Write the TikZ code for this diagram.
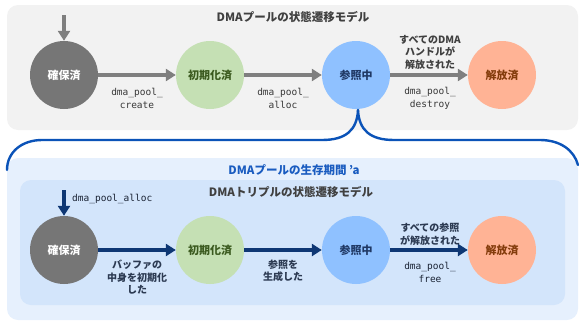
\documentclass[tikz,border=0pt]{standalone}
\usepackage{fontspec}
\setmainfont{Noto Sans CJK JP}
\setmonofont{DejaVu Sans Mono}
\usetikzlibrary{arrows.meta}

\definecolor{panelgray}{HTML}{F2F2F2}
\definecolor{paneloutblue}{HTML}{E6F0FD}
\definecolor{panelinblue}{HTML}{D3E5FB}
\definecolor{bracketblue}{HTML}{0B53B8}
\definecolor{titleblue}{HTML}{1A5CC0}
\definecolor{arrowgray}{HTML}{7F7F7F}
\definecolor{arrownavy}{HTML}{0E3774}
\definecolor{textgray}{HTML}{404040}
\definecolor{codegray}{HTML}{383838}
\definecolor{textnavy}{HTML}{2C3A52}
\definecolor{codenavy}{HTML}{1B2435}
\definecolor{stgray}{HTML}{767676}
\definecolor{stgreen}{HTML}{C5E0B4}
\definecolor{stgreentext}{HTML}{3B5A1F}
\definecolor{stblue}{HTML}{8FC1FF}
\definecolor{stbluetext}{HTML}{1F3864}
\definecolor{stsalmon}{HTML}{FFB395}
\definecolor{stsalmontext}{HTML}{843C0C}

\tikzset{
  state/.style={circle, minimum size=68pt, inner sep=0pt, font=\fontsize{11}{13}\selectfont\bfseries},
  sAlloc/.style={state, fill=stgray, text=white},
  sInit/.style={state, fill=stgreen, text=stgreentext},
  sRef/.style={state, fill=stblue, text=stbluetext},
  sFree/.style={state, fill=stsalmon, text=stsalmontext},
  grayflow/.style={draw=arrowgray, line width=4pt, -{Triangle[length=10pt,width=12pt]}},
  navyflow/.style={draw=arrownavy, line width=4pt, -{Triangle[length=10pt,width=12pt]}},
  codelbl/.style={align=center, font=\fontsize{9.5}{13}\selectfont\ttfamily, text=codegray, inner sep=0pt},
  jplbl/.style={align=center, font=\fontsize{10}{12.5}\selectfont\bfseries, inner sep=0pt},
  paneltitle/.style={font=\fontsize{11.5}{13}\selectfont\bfseries, inner sep=0pt},
}

\begin{document}
\begin{tikzpicture}[x=1pt, y=-1pt]
\useasboundingbox (0,0) rectangle (579,322);

% panels
\fill[panelgray, rounded corners=11pt] (7,5) rectangle (578,130);
\fill[paneloutblue, rounded corners=11pt] (7,158) rectangle (578,320);
\fill[panelinblue, rounded corners=11pt] (20,180) rectangle (565,305);

% panel titles
\node[paneltitle, text=textgray] (ttlpool) at (293,17) {DMAプールの状態遷移モデル};
\node[paneltitle, text=titleblue] (ttllife) at (294,170) {DMAプールの生存期間 ’a};
\node[paneltitle, text=textgray] (ttltriple) at (291,192) {DMAトリプルの状態遷移モデル};

% pool state machine
\node[sAlloc] (pA) at (64,75) {確保済};
\node[sInit]  (pI) at (210,75) {初期化済};
\node[sRef]   (pR) at (356,75) {参照中};
\node[sFree]  (pF) at (502,75) {解放済};

\coordinate (pStart) at (64,15);
\draw[grayflow] (pStart) -- (pA.north);
\draw[grayflow] (pA.east) -- (pI.west);
\draw[grayflow] (pI.east) -- (pR.west);
\draw[grayflow] (pR.east) -- (pF.west);

\node[codelbl] (lcreate) at (137,98.5) {dma\_pool\_\\create};
\node[codelbl] (lpalloc) at (283,98.5) {dma\_pool\_\\alloc};
\node[codelbl] (ldestroy) at (430,98.5) {dma\_pool\_\\destroy};
\node[jplbl, text=textgray] (lhandles) at (430,52) {すべてのDMA\\ハンドルが\\解放された};

% lifetime bracket hanging from the in-use state
\coordinate (bTip) at (358,110);
\coordinate (bLeft) at (7,170);
\coordinate (bRight) at (578,165);
\draw[bracketblue, line width=2.4pt, line cap=round]
  (bLeft) .. controls (7,152) and (22,140) .. (42,140) -- (322,140)
  .. controls (346,140) and (357,130) .. (bTip);
\draw[bracketblue, line width=2.4pt, line cap=round]
  (bTip) .. controls (359,130) and (370,140) .. (394,140) -- (540,140)
  .. controls (560,140) and (574,150) .. (bRight);

% triple state machine
\node[sAlloc] (tA) at (64,250) {確保済};
\node[sInit]  (tI) at (210,250) {初期化済};
\node[sRef]   (tR) at (356,250) {参照中};
\node[sFree]  (tF) at (502,250) {解放済};

\coordinate (tStart) at (64,190);
\draw[navyflow] (tStart) -- (tA.north);
\draw[navyflow] (tA.east) -- (tI.west);
\draw[navyflow] (tI.east) -- (tR.west);
\draw[navyflow] (tR.east) -- (tF.west);

\node[codelbl, text=codenavy, anchor=west] (ltalloc) at (72,199) {dma\_pool\_alloc};
\node[jplbl, text=textnavy] (lbuf) at (137,277.5) {バッファの\\中身を初期化\\した};
\node[jplbl, text=textnavy] (lmkref) at (283,271) {参照を\\生成した};
\node[jplbl, text=textnavy] (lrefs) at (430,234) {すべての参照\\が解放された};
\node[codelbl, text=codenavy] (lfree) at (430,272) {dma\_pool\_\\free};
\end{tikzpicture}
\end{document}
